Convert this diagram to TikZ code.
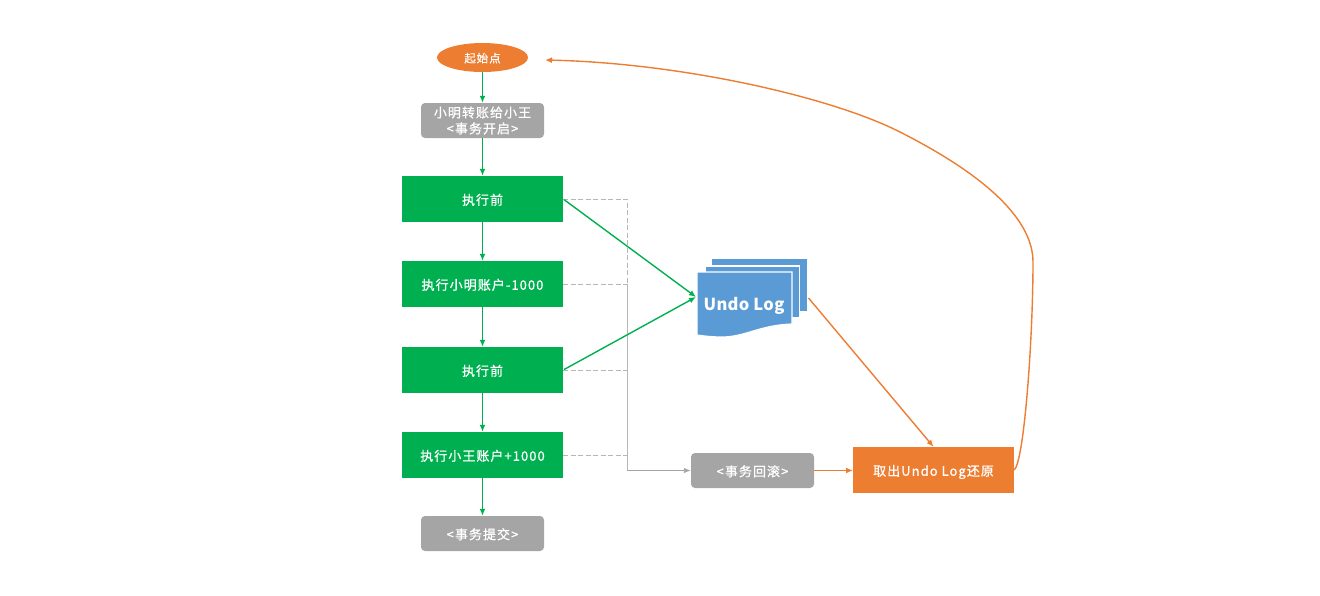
\documentclass[tikz,border=0pt]{standalone}
\usepackage{fontspec}
\setmainfont{Noto Sans CJK SC}
\newfontfamily\boxfont[LetterSpace=8,FakeBold=0.7]{Noto Sans CJK SC}
\newfontfamily\logfont[LetterSpace=2]{Noto Sans CJK SC}
\usetikzlibrary{shapes.geometric,arrows.meta}
\definecolor{stepgreen}{HTML}{00B050}
\definecolor{stepgray}{HTML}{A5A5A5}
\definecolor{steporange}{HTML}{ED7D31}
\definecolor{logblue}{HTML}{5B9BD5}
\tikzset{
  x=1pt,y=-1pt,
  box/.style={rectangle,inner sep=0pt,text=white,font=\fontsize{13}{16}\boxfont},
  onerow/.style={text height=12.5pt,text depth=1pt},
  greenbox/.style={box,onerow,fill=stepgreen,minimum width=161pt,minimum height=46pt},
  graybox/.style={box,fill=stepgray,rounded corners=4pt,minimum width=123pt,minimum height=35pt,align=center},
  orangebox/.style={box,onerow,fill=steporange,minimum width=161pt,minimum height=46pt},
  page/.style={fill=logblue,draw=white,line width=1.2pt},
  greenline/.style={-{Latex[length=7pt,width=6pt]},stepgreen,line width=1.4pt},
  orangeline/.style={-{Latex[length=7pt,width=6pt]},steporange,line width=1.4pt},
  dashline/.style={dash pattern=on 5pt off 2.5pt,stepgray!80,line width=.7pt},
  rollline/.style={-{Latex[length=7pt,width=5.5pt]},stepgray,line width=.9pt}
}
\begin{document}
\begin{tikzpicture}
    \useasboundingbox (0,0) rectangle (1320,595);
    \node (start) at (482.5,57.5) [ellipse,fill=steporange,inner sep=0pt,minimum width=91pt,minimum height=29pt,text=white,text height=11pt,text depth=1pt,font=\fontsize{11.5}{14}\boxfont] {起始点};
    \node (open) at (482.5,120.5) [graybox] {小明转账给小王\\<事务开启>};
    \node (before1) at (482.5,199) [greenbox] {执行前};
    \node (ming) at (482.5,284) [greenbox] {执行小明账户-1000};
    \node (before2) at (482.5,370) [greenbox] {执行前};
    \node (wang) at (482.5,455) [greenbox] {执行小王账户+1000};
    \node (commit) at (482.5,533.5) [graybox,onerow] {<事务提交>};
    \node (rollback) at (752.5,470.5) [graybox,onerow] {<事务回滚>};
    \node (restore) at (933.5,470) [orangebox] {取出Undo Log还原};
    % stacked pages of the log
    \fill[logblue] (712,259) rectangle (807,311);
    \draw[page] (705,266) rectangle (799.5,318);
    \draw[page] (697,272) -- (792,272) -- (792,324) .. controls (760,325) and (745,337) .. (722,337) .. controls (712,337) and (704,336) .. (697,335) -- cycle;
    \node (log) at (744,304) [text=white,inner sep=0pt,text height=14.5pt,text depth=1pt,font=\fontsize{16.5}{20}\logfont\bfseries] {Undo Log};
    \coordinate (login) at (696,297);
    \coordinate (logout) at (808.5,298);
    \coordinate (bus) at (627,470.5);
    \coordinate (back) at (545,60);
    \coordinate (stopin) at (853,470.5);
    % dashed lines to the rollback
    \foreach \step in {before1,ming,before2,wang}
      \draw[dashline] (\step.east) -| (bus);
    \draw[rollline] (bus) -- (rollback.west);
    % main flow
    \draw[greenline] (start) -- (open);
    \draw[greenline] (open) -- (before1);
    \draw[greenline] (before1) -- (ming);
    \draw[greenline] (ming) -- (before2);
    \draw[greenline] (before2) -- (wang);
    \draw[greenline] (wang) -- (commit);
    \draw[greenline,shorten <=1pt] (before1.east) -- (login);
    \draw[greenline,shorten <=1pt] (before2.east) -- (login);
    % undo path
    \draw[orangeline] (rollback) -- (stopin);
    \draw[orangeline] (logout) -- (restore.north);
    \draw[orangeline] (restore.east) .. controls (1024,462) and (1033,340) .. (1033,262) .. controls (1033,215) and (975,170) .. (900,132) .. controls (830,96.5) and (680,63) .. (back);
\end{tikzpicture}
\end{document}
